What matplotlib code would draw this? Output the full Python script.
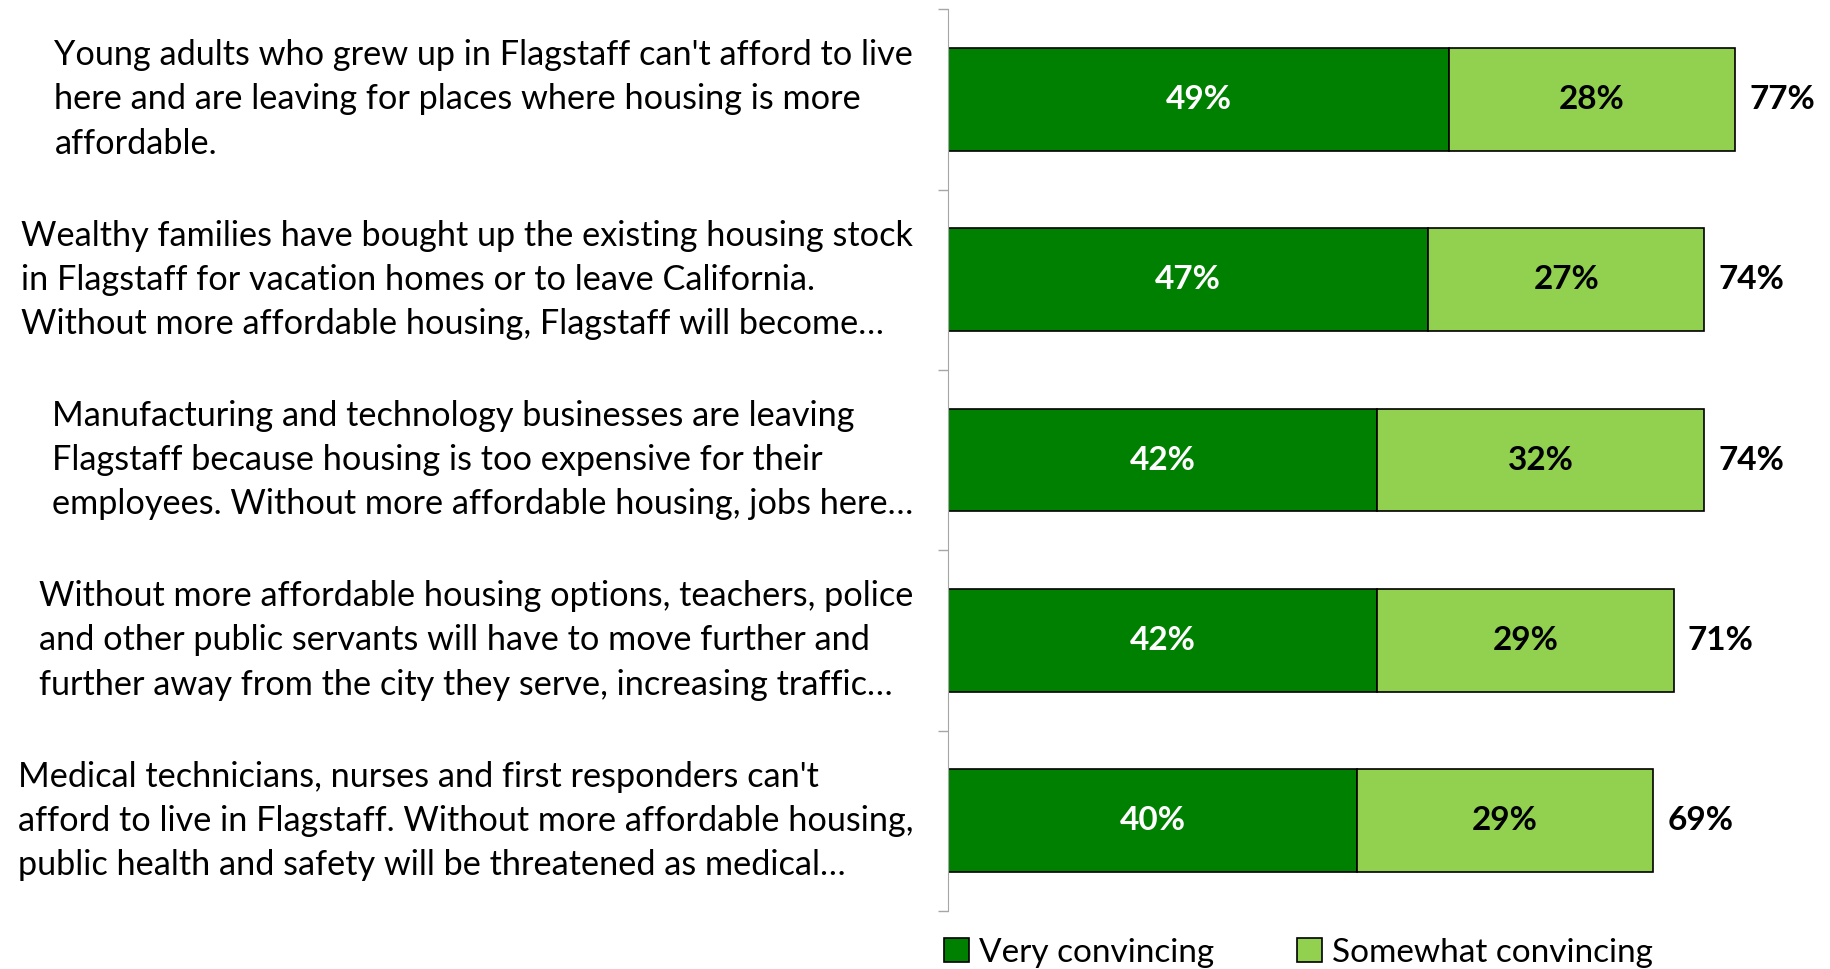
import matplotlib.pyplot as plt
import numpy as np

# statements tested, top to bottom
statements = [
    "Young adults who grew up in Flagstaff can't afford to live\nhere and are leaving for places where housing is more\naffordable.",
    "Wealthy families have bought up the existing housing stock\nin Flagstaff for vacation homes or to leave California.\nWithout more affordable housing, Flagstaff will become\u2026",
    "Manufacturing and technology businesses are leaving\nFlagstaff because housing is too expensive for their\nemployees. Without more affordable housing, jobs here\u2026",
    "Without more affordable housing options, teachers, police\nand other public servants will have to move further and\nfurther away from the city they serve, increasing traffic\u2026",
    "Medical technicians, nurses and first responders can't\nafford to live in Flagstaff. Without more affordable housing,\npublic health and safety will be threatened as medical\u2026",
]
very = [49, 47, 42, 42, 40]
somewhat = [28, 27, 32, 29, 29]
total = [77, 74, 74, 71, 69]

DARK = "#008000"
LIGHT = "#92D050"
FONT = "Lato"

plt.rcParams["font.family"] = FONT

fig = plt.figure(figsize=(18.31, 9.69), dpi=100)
ax = fig.add_axes([0.5178, 0.0599, 0.4822, 0.9306])

y = np.arange(len(statements))
h = 0.57
ax.barh(y, very, h, color=DARK, edgecolor="black", linewidth=1.2, label="Very convincing")
ax.barh(y, somewhat, h, left=very, color=LIGHT, edgecolor="black", linewidth=1.2,
        label="Somewhat convincing")

for i in range(len(y)):
    ax.text(very[i] / 2, y[i], f"{very[i]}%", ha="center", va="center",
            color="white", fontsize=24, fontweight="bold")
    ax.text(very[i] + somewhat[i] / 2, y[i], f"{somewhat[i]}%", ha="center", va="center",
            color="black", fontsize=24, fontweight="bold")
    ax.text(total[i] + 1.4, y[i], f"{total[i]}%", ha="left", va="center",
            color="black", fontsize=24, fontweight="bold")
    ax.text(-3.4, y[i], statements[i], ha="right", va="center", multialignment="left",
            fontsize=24.7, linespacing=1.47, color="black")

ax.set_xlim(0, 86.4)
ax.set_ylim(len(y) - 0.5, -0.5)
ax.set_xticks([])
ax.set_yticks(np.arange(-0.5, len(y), 1))
ax.set_yticklabels([])
ax.tick_params(axis="y", length=7, color="#A6A6A6", width=1)
for s in ["top", "right", "bottom"]:
    ax.spines[s].set_visible(False)
ax.spines["left"].set_color("#A6A6A6")

fig.legend(loc="center", bbox_to_anchor=(0.709, 0.017), ncol=2, frameon=False,
           fontsize=24, handlelength=0.75, handleheight=0.75, handletextpad=0.3,
           columnspacing=2.5, borderaxespad=0)

fig.savefig("out.png", dpi=100)
